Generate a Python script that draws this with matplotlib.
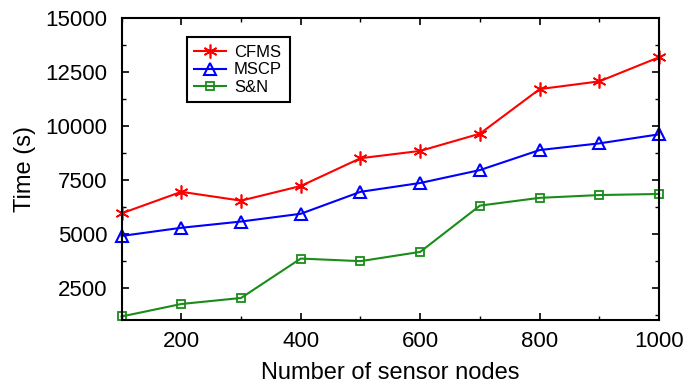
import matplotlib
matplotlib.use("Agg")
import matplotlib.pyplot as plt
from matplotlib.ticker import MultipleLocator

plt.rcParams['font.family'] = ['Liberation Sans', 'DejaVu Sans']

# data
nodes = [100, 200, 300, 400, 500, 600, 700, 800, 900, 1000]
cfms = [5950, 6950, 6540, 7220, 8510, 8850, 9650, 11720, 12080, 13200]
mscp = [4900, 5280, 5570, 5930, 6950, 7360, 7960, 8890, 9200, 9620]
sn = [1160, 1740, 2020, 3850, 3730, 4160, 6310, 6670, 6800, 6850]

fig = plt.figure(figsize=(6.83, 3.85), dpi=100)
ax = fig.add_axes([0.178, 0.169, 0.787, 0.783])

ax.plot(nodes, cfms, color='red', marker=(6, 2, 0), markersize=10, markeredgewidth=1.2,
        linewidth=1.5, label='CFMS', clip_on=False)
ax.plot(nodes, mscp, color='blue', marker='^', markersize=8, markeredgewidth=1.5,
        markerfacecolor='none', linewidth=1.5, label='MSCP', clip_on=False)
ax.plot(nodes, sn, color='#1a8c1a', marker='s', markersize=6, markeredgewidth=1.3,
        markerfacecolor='none', linewidth=1.5, label='S&N', clip_on=False)

ax.set_xlim(100, 1000)
ax.set_ylim(1000, 15000)
ax.set_xticks([200, 400, 600, 800, 1000])
ax.xaxis.set_minor_locator(MultipleLocator(100))
ax.set_yticks([2500, 5000, 7500, 10000, 12500, 15000])
ax.yaxis.set_minor_locator(MultipleLocator(1250))
ax.tick_params(which='both', direction='in', top=True, right=True, labelsize=16)
ax.tick_params(which='major', length=5, width=1.2)
ax.tick_params(axis='y', which='major', pad=10)
ax.tick_params(axis='x', which='major', pad=8)
ax.tick_params(which='minor', length=3, width=1.0)
for s in ax.spines.values():
    s.set_linewidth(1.5)

ax.set_xlabel('Number of sensor nodes', fontsize=17, labelpad=7)
ax.set_ylabel('Time (s)', fontsize=17, labelpad=7)

leg = ax.legend(loc='upper left', bbox_to_anchor=(0.121, 0.937), borderaxespad=0,
                fontsize=12, fancybox=False, edgecolor='black', framealpha=1,
                handlelength=1.9, borderpad=0.45, labelspacing=0.15, handletextpad=0.5)
leg.get_frame().set_linewidth(1.5)

fig.savefig('out.png', dpi=100)
